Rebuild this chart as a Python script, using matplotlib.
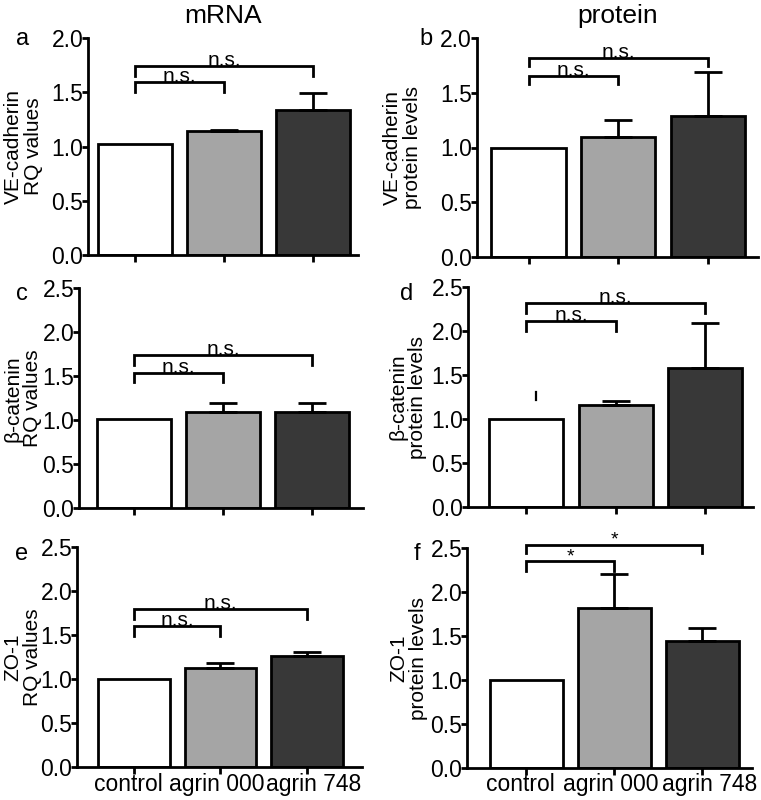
import matplotlib
matplotlib.use('Agg')
import matplotlib.pyplot as plt
from matplotlib.transforms import ScaledTranslation

plt.rcParams['font.family'] = ['Liberation Sans', 'DejaVu Sans']

# ---------------------------------------------------

groups = ['control', 'agrin 000', 'agrin 748']
bar_colors = ['white', '#a5a5a5', '#383838']
columns = ['mRNA', 'protein']
genes = ['VE-cadherin', '\u03b2-catenin', 'ZO-1']
panel_letters = [['a', 'b'], ['c', 'd'], ['e', 'f']]

mrna_mean = [[1.02, 1.14, 1.34], [1.01, 1.09, 1.09], [1.00, 1.13, 1.26]]
mrna_err = [[0, 0.01, 0.15], [0, 0.11, 0.11], [0, 0.06, 0.05]]
protein_mean = [[1.00, 1.10, 1.29], [1.00, 1.16, 1.58], [1.00, 1.82, 1.44]]
protein_err = [[0, 0.15, 0.40], [0, 0.05, 0.51], [0, 0.39, 0.15]]

y_max = [2.0, 2.5, 2.5]

# brackets (height, leg bottom): control vs agrin 000, control vs agrin 748
mrna_brackets = [[(1.59, 1.50), (1.745, 1.65)],
                 [(1.54, 1.44), (1.74, 1.63)],
                 [(1.61, 1.49), (1.80, 1.69)]]
protein_brackets = [[(1.65, 1.58), (1.82, 1.74)],
                    [(2.11, 2.00), (2.31, 2.20)],
                    [(2.35, 2.24), (2.54, 2.45)]]
mrna_sig = [['n.s.', 'n.s.'], ['n.s.', 'n.s.'], ['n.s.', 'n.s.']]
protein_sig = [['n.s.', 'n.s.'], ['n.s.', 'n.s.'], ['*', '*']]

# small stray mark above the control bar in panel d
stray_x = 0.11
stray_y = [1.22, 1.31]

# ---------------------------------------------------
# layout

W, H = 761, 800
axes_px = [[(88, 358, 38, 255), (476.7, 758, 38, 257)],
           [(79, 363, 288.3, 508.3), (468.3, 753, 286.7, 507.3)],
           [(77, 362, 547.3, 767.3), (467.3, 751.7, 548.3, 767.7)]]
xlims = [[(-0.53, 2.51), (-0.58, 2.56)],
         [(-0.62, 2.57), (-0.65, 2.54)],
         [(-0.66, 2.64), (-0.67, 2.56)]]
ylabel_right_px = [[43, 422], [42.5, 427], [42, 428]]
letter_pos = [[(-0.244, 0.968), (-0.18, 0.968)],
              [(-0.20, 0.947), (-0.215, 0.94)],
              [(-0.193, 0.942), (-0.177, 0.947)]]
xlabel_shift_px = [-6, -4, 7]

lw = 2.0
fig = plt.figure(figsize=(W / 100, H / 100), dpi=100)

for r in range(3):
    for c in range(2):
        l, rt, t, b = axes_px[r][c]
        ax = fig.add_axes([l / W, 1 - b / H, (rt - l) / W, (b - t) / H])
        if c == 0:
            means, errs, brackets, sig = mrna_mean[r], mrna_err[r], mrna_brackets[r], mrna_sig[r]
            ylab = genes[r] + '\nRQ values'
        else:
            means, errs, brackets, sig = protein_mean[r], protein_err[r], protein_brackets[r], protein_sig[r]
            ylab = genes[r] + '\nprotein levels'

        xs = list(range(len(groups)))
        ax.bar(xs, means, width=0.83, color=bar_colors, edgecolor='black', linewidth=lw, zorder=2)
        ex = [x for x, e in zip(xs, errs) if e > 0]
        ey = [m for m, e in zip(means, errs) if e > 0]
        ee = [e for e in errs if e > 0]
        ax.errorbar(ex, ey, yerr=[[0] * len(ee), ee], fmt='none', ecolor='black',
                    elinewidth=lw, capsize=10, capthick=lw, zorder=3)

        for k, (yb, yleg) in enumerate(brackets):
            x2 = xs[k + 1]
            ax.plot([xs[0], xs[0], x2, x2], [yleg, yb, yb, yleg], color='black',
                    lw=lw, clip_on=False, solid_joinstyle='miter')
            ax.text((xs[0] + x2) / 2, yb, sig[k], ha='center', va='baseline',
                    fontsize=15 if sig[k] == 'n.s.' else 14, clip_on=False)

        if r == 1 and c == 1:
            ax.plot([stray_x, stray_x], stray_y, color='black', lw=1.6)

        ax.set_xlim(*xlims[r][c])
        ax.set_ylim(0, y_max[r])
        n = int(round(y_max[r] / 0.5)) + 1
        ax.set_yticks([i * 0.5 for i in range(n)])
        ax.set_yticklabels(['%.1f' % (i * 0.5) for i in range(n)])
        ax.set_xticks(xs)
        if r == 2:
            ax.set_xticklabels(groups)
        else:
            ax.set_xticklabels([])

        for s in ['top', 'right']:
            ax.spines[s].set_visible(False)
        for s in ['left', 'bottom']:
            ax.spines[s].set_linewidth(lw)
        ax.tick_params(axis='y', direction='out', length=4, width=lw, pad=-0.5, labelsize=16.5)
        ax.tick_params(axis='x', direction='out', length=5, width=lw, pad=-1, labelsize=16.5)
        if r == 2:
            for lab, dx in zip(ax.get_xticklabels(), xlabel_shift_px):
                lab.set_transform(lab.get_transform() + ScaledTranslation(dx / 100, 0, fig.dpi_scale_trans))

        ax.set_ylabel(ylab, fontsize=15, linespacing=1.05)
        ax.yaxis.set_label_coords((ylabel_right_px[r][c] - l) / (rt - l), 0.5)
        lx, ly = letter_pos[r][c]
        ax.text(lx, ly, panel_letters[r][c], transform=ax.transAxes, ha='center',
                va='baseline', fontsize=17)
        if r == 0:
            ax.set_title(columns[c], fontsize=19, pad=11)

plt.savefig('out.png', dpi=100)
